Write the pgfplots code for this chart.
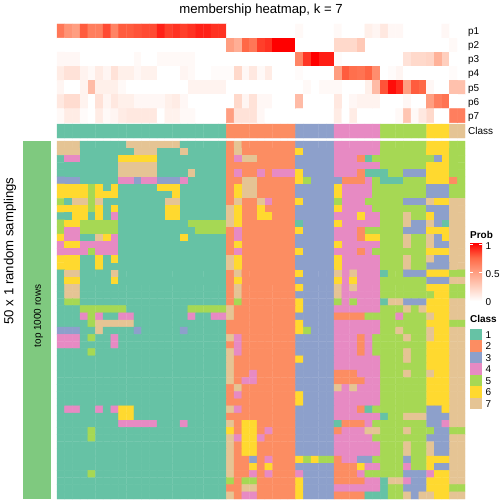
\documentclass[border=0pt]{standalone}
\usepackage{fontspec}
\setmainfont{Liberation Sans}
\usepackage{pgfplots}
\pgfplotsset{compat=1.18}
\definecolor{c1}{RGB}{102,194,165}
\definecolor{c2}{RGB}{252,141,98}
\definecolor{c3}{RGB}{141,160,203}
\definecolor{c4}{RGB}{231,138,195}
\definecolor{c5}{RGB}{166,216,84}
\definecolor{c6}{RGB}{255,217,47}
\definecolor{c7}{RGB}{229,196,148}
\definecolor{slicegreen}{RGB}{127,201,127}
\definecolor{pq1}{RGB}{255,207,190}
\definecolor{pq2}{RGB}{255,158,129}
\definecolor{pq3}{RGB}{255,104,70}
\pgfdeclareverticalshading{probbar}{100bp}{color(0bp)=(white); color(25bp)=(white); color(37.5bp)=(pq1); color(50bp)=(pq2); color(62.5bp)=(pq3); color(75bp)=(red); color(100bp)=(red)}
\pgfplotsset{
  canvas/.style={at={(0,0)}, anchor=south west, scale only axis, width=504bp, height=504bp,
    xmin=0, xmax=504, ymin=0, ymax=504, y dir=reverse, hide axis, clip=false},
  colormap={classmap}{rgb255=(255,255,255) rgb255=(102,194,165) rgb255=(252,141,98) rgb255=(141,160,203) rgb255=(231,138,195) rgb255=(166,216,84) rgb255=(255,217,47) rgb255=(229,196,148)},
  colormap={probmap}{rgb255=(255,255,255) rgb255=(255,207,190) rgb255=(255,158,129) rgb255=(255,104,70) rgb255=(255,0,0)},
}
\begin{document}
\begin{tikzpicture}
\begin{axis}[canvas, colormap name=classmap, colormap access=direct]
% main heatmap: 50 rows x 53 columns of class labels
\addplot[matrix plot, mesh/cols=53, point meta=explicit] table[row sep=\\,
  x expr={57+7.698*(mod(\coordindex,53)+0.5)}, y expr={141+7.16*(floor((\coordindex+0.5)/53)+0.5)}, meta=c] {
c\\
7\\7\\7\\1\\1\\1\\1\\1\\1\\7\\7\\7\\7\\7\\7\\7\\1\\1\\1\\1\\1\\1\\2\\7\\2\\2\\2\\2\\2\\2\\2\\3\\3\\3\\3\\3\\4\\4\\4\\4\\4\\4\\5\\5\\5\\5\\5\\5\\6\\6\\6\\5\\5\\
7\\7\\7\\1\\1\\1\\1\\1\\1\\1\\7\\7\\7\\1\\1\\1\\7\\1\\1\\1\\1\\1\\2\\7\\2\\2\\2\\2\\2\\2\\2\\6\\3\\3\\3\\3\\4\\4\\4\\4\\4\\4\\5\\5\\5\\5\\5\\5\\6\\6\\6\\5\\5\\
1\\4\\4\\1\\1\\1\\1\\1\\6\\6\\6\\6\\6\\1\\1\\1\\1\\1\\1\\1\\1\\1\\2\\4\\7\\7\\2\\2\\2\\2\\2\\3\\3\\3\\3\\3\\4\\4\\4\\2\\1\\5\\5\\5\\5\\5\\5\\5\\5\\3\\6\\5\\5\\
1\\1\\1\\1\\1\\1\\1\\1\\7\\7\\7\\7\\7\\1\\1\\1\\1\\1\\1\\1\\1\\1\\2\\2\\2\\2\\2\\2\\2\\2\\2\\3\\3\\3\\3\\3\\4\\4\\4\\4\\4\\4\\5\\5\\5\\5\\5\\5\\6\\6\\6\\5\\5\\
1\\1\\1\\1\\1\\1\\1\\1\\7\\7\\7\\7\\7\\1\\1\\1\\1\\7\\1\\1\\1\\1\\2\\4\\2\\2\\4\\2\\4\\4\\4\\6\\3\\3\\3\\3\\4\\4\\4\\2\\1\\1\\1\\5\\5\\3\\3\\3\\6\\6\\6\\5\\5\\
3\\3\\3\\1\\1\\1\\1\\1\\4\\4\\3\\4\\4\\3\\3\\3\\4\\1\\1\\1\\1\\1\\2\\2\\7\\7\\2\\2\\2\\2\\2\\6\\5\\3\\3\\3\\3\\2\\2\\2\\4\\5\\1\\1\\1\\5\\5\\5\\6\\6\\6\\2\\5\\
6\\6\\6\\6\\5\\6\\1\\6\\1\\1\\1\\1\\1\\6\\6\\6\\1\\1\\1\\1\\1\\1\\2\\6\\7\\7\\2\\2\\2\\2\\2\\3\\3\\3\\3\\3\\6\\4\\4\\4\\4\\5\\5\\5\\5\\5\\5\\5\\3\\3\\3\\5\\5\\
6\\6\\6\\6\\5\\6\\6\\6\\1\\1\\1\\1\\1\\1\\1\\6\\1\\1\\1\\1\\1\\1\\2\\6\\7\\7\\2\\2\\2\\2\\2\\3\\3\\3\\3\\3\\6\\4\\4\\4\\4\\5\\5\\5\\5\\5\\5\\5\\3\\3\\3\\5\\5\\
5\\1\\7\\7\\5\\7\\1\\1\\1\\1\\1\\1\\1\\1\\7\\7\\1\\1\\1\\1\\1\\1\\2\\7\\2\\2\\7\\4\\2\\2\\2\\6\\3\\3\\3\\3\\5\\4\\4\\4\\5\\5\\5\\5\\5\\3\\3\\3\\7\\6\\6\\7\\7\\
6\\6\\6\\6\\5\\6\\1\\6\\1\\1\\1\\1\\1\\1\\6\\6\\1\\1\\1\\1\\1\\1\\7\\6\\2\\2\\6\\2\\2\\2\\2\\3\\3\\3\\3\\3\\6\\4\\4\\4\\4\\5\\5\\5\\5\\5\\5\\5\\3\\3\\3\\7\\7\\
1\\1\\6\\6\\1\\6\\1\\4\\1\\1\\1\\1\\1\\1\\6\\6\\1\\1\\1\\1\\1\\1\\7\\6\\2\\2\\6\\6\\2\\2\\2\\3\\3\\3\\3\\3\\4\\4\\4\\6\\4\\4\\5\\5\\5\\7\\5\\5\\6\\3\\3\\7\\7\\
5\\6\\6\\5\\5\\5\\5\\5\\1\\1\\1\\1\\1\\1\\1\\1\\1\\5\\5\\5\\5\\5\\7\\6\\2\\2\\2\\2\\2\\2\\2\\1\\3\\3\\3\\3\\6\\4\\4\\4\\4\\4\\5\\5\\5\\7\\3\\3\\7\\3\\1\\7\\7\\
5\\4\\4\\5\\5\\5\\5\\5\\1\\1\\1\\1\\1\\1\\1\\1\\1\\1\\5\\5\\5\\5\\2\\4\\2\\2\\2\\2\\2\\2\\2\\6\\3\\3\\3\\3\\4\\4\\4\\2\\5\\5\\5\\5\\5\\3\\3\\3\\6\\6\\6\\7\\7\\
6\\4\\4\\1\\1\\7\\6\\4\\1\\1\\1\\1\\1\\1\\1\\1\\6\\1\\1\\1\\1\\1\\2\\4\\2\\2\\2\\2\\2\\2\\2\\3\\3\\3\\3\\3\\4\\4\\4\\2\\6\\6\\5\\5\\5\\7\\5\\5\\7\\3\\6\\7\\7\\
4\\6\\6\\4\\4\\4\\4\\4\\1\\1\\1\\1\\1\\1\\1\\1\\1\\1\\1\\1\\1\\1\\2\\6\\2\\2\\2\\2\\2\\2\\2\\3\\3\\3\\3\\3\\6\\4\\4\\4\\4\\4\\5\\5\\5\\7\\5\\5\\7\\3\\3\\7\\7\\
4\\4\\4\\4\\5\\4\\4\\4\\1\\1\\1\\1\\1\\1\\1\\1\\1\\1\\1\\1\\1\\1\\2\\4\\2\\2\\2\\2\\2\\2\\2\\6\\3\\3\\3\\3\\4\\4\\4\\2\\4\\5\\5\\5\\5\\5\\5\\5\\6\\6\\6\\7\\7\\
6\\6\\6\\1\\1\\6\\1\\6\\1\\1\\1\\1\\1\\1\\1\\1\\1\\1\\1\\1\\1\\1\\7\\6\\2\\2\\2\\2\\2\\2\\2\\3\\3\\3\\3\\3\\6\\4\\4\\4\\4\\4\\5\\5\\5\\7\\5\\5\\7\\3\\3\\7\\7\\
6\\6\\6\\1\\1\\6\\1\\1\\1\\1\\1\\1\\1\\1\\1\\1\\1\\1\\1\\1\\1\\1\\7\\6\\2\\2\\2\\2\\2\\2\\2\\3\\3\\3\\3\\3\\6\\4\\4\\4\\4\\4\\5\\5\\5\\7\\5\\5\\3\\3\\3\\7\\7\\
1\\7\\7\\1\\1\\1\\1\\7\\1\\1\\1\\1\\1\\1\\1\\1\\1\\1\\1\\1\\1\\1\\2\\7\\2\\2\\2\\2\\2\\2\\2\\6\\3\\3\\3\\3\\7\\4\\7\\4\\4\\4\\1\\5\\5\\3\\3\\3\\6\\6\\6\\5\\5\\
1\\6\\6\\1\\1\\1\\1\\6\\1\\1\\1\\1\\1\\1\\1\\1\\1\\1\\1\\1\\1\\1\\2\\6\\2\\2\\2\\2\\2\\2\\2\\3\\3\\3\\3\\3\\6\\4\\6\\4\\4\\4\\5\\5\\5\\5\\5\\5\\3\\3\\3\\7\\7\\
1\\7\\7\\1\\1\\1\\1\\1\\1\\1\\1\\1\\1\\1\\1\\1\\1\\1\\1\\1\\1\\1\\2\\7\\2\\2\\2\\2\\2\\2\\2\\6\\3\\3\\3\\3\\7\\4\\7\\4\\4\\4\\5\\5\\5\\5\\5\\5\\6\\6\\6\\5\\5\\
1\\7\\7\\1\\1\\1\\1\\1\\1\\1\\1\\1\\1\\1\\1\\1\\1\\1\\1\\1\\1\\1\\2\\7\\2\\2\\2\\2\\2\\2\\2\\3\\3\\3\\3\\3\\7\\4\\4\\4\\4\\4\\5\\5\\5\\5\\5\\5\\5\\6\\6\\5\\5\\
1\\5\\5\\1\\1\\1\\1\\1\\1\\1\\1\\1\\1\\1\\1\\1\\1\\1\\1\\1\\1\\1\\2\\5\\2\\2\\2\\2\\2\\2\\2\\6\\3\\3\\3\\3\\5\\4\\5\\4\\4\\4\\1\\7\\7\\3\\3\\3\\6\\6\\6\\7\\7\\
1\\1\\1\\5\\5\\5\\5\\5\\5\\1\\1\\1\\1\\1\\1\\1\\1\\5\\5\\5\\5\\5\\7\\2\\2\\2\\2\\2\\2\\2\\2\\6\\3\\3\\3\\3\\4\\4\\4\\4\\4\\4\\5\\5\\5\\7\\5\\7\\6\\6\\6\\7\\7\\
1\\1\\1\\4\\5\\4\\1\\1\\4\\4\\1\\1\\1\\1\\1\\1\\1\\4\\1\\1\\4\\4\\7\\2\\2\\2\\2\\2\\2\\2\\2\\3\\3\\3\\3\\3\\2\\2\\2\\2\\5\\5\\5\\5\\4\\5\\5\\5\\7\\6\\6\\7\\7\\
1\\1\\1\\1\\5\\7\\7\\7\\7\\7\\1\\1\\1\\1\\1\\1\\1\\1\\1\\1\\1\\1\\2\\2\\2\\2\\2\\2\\2\\2\\2\\6\\3\\3\\3\\3\\4\\4\\4\\4\\4\\4\\5\\5\\5\\5\\5\\5\\6\\6\\6\\5\\5\\
3\\3\\3\\1\\1\\7\\1\\1\\1\\1\\3\\1\\1\\1\\1\\1\\3\\1\\1\\1\\1\\1\\2\\2\\2\\2\\2\\2\\2\\2\\2\\6\\5\\3\\3\\3\\4\\4\\4\\4\\4\\4\\5\\5\\7\\5\\5\\5\\7\\6\\6\\7\\7\\
4\\4\\4\\1\\5\\1\\1\\4\\1\\1\\1\\1\\1\\1\\1\\1\\1\\1\\1\\1\\1\\1\\7\\4\\2\\2\\2\\2\\2\\2\\2\\3\\3\\3\\3\\3\\4\\4\\4\\2\\4\\5\\5\\5\\5\\7\\5\\5\\7\\6\\6\\7\\7\\
4\\4\\4\\1\\1\\1\\1\\4\\1\\1\\1\\1\\1\\1\\1\\1\\1\\1\\1\\1\\1\\1\\2\\4\\2\\2\\2\\2\\2\\2\\2\\3\\3\\3\\3\\3\\4\\4\\4\\2\\4\\5\\5\\5\\5\\5\\5\\5\\6\\6\\6\\7\\7\\
1\\1\\1\\1\\5\\1\\1\\1\\1\\1\\1\\1\\1\\1\\1\\1\\1\\1\\1\\1\\1\\1\\7\\4\\2\\2\\2\\2\\2\\2\\2\\3\\3\\3\\3\\3\\4\\4\\4\\2\\4\\5\\5\\5\\5\\7\\5\\5\\6\\6\\6\\7\\7\\
1\\1\\1\\1\\1\\1\\1\\1\\1\\1\\1\\1\\1\\1\\1\\1\\1\\1\\1\\1\\1\\1\\7\\2\\2\\2\\2\\2\\2\\2\\2\\6\\3\\3\\3\\3\\4\\4\\4\\4\\4\\4\\5\\5\\5\\7\\5\\5\\6\\6\\6\\7\\7\\
1\\1\\1\\1\\1\\1\\1\\1\\1\\1\\1\\1\\1\\1\\1\\1\\1\\1\\1\\1\\1\\1\\7\\2\\2\\2\\2\\2\\2\\2\\2\\3\\3\\3\\3\\3\\4\\4\\4\\4\\4\\4\\5\\5\\5\\5\\5\\5\\6\\6\\6\\7\\7\\
1\\1\\1\\1\\1\\1\\1\\1\\1\\1\\1\\1\\1\\1\\1\\1\\1\\1\\1\\1\\1\\1\\7\\2\\2\\4\\2\\2\\2\\2\\2\\3\\3\\3\\3\\3\\2\\2\\2\\4\\4\\4\\5\\5\\5\\7\\5\\5\\7\\6\\6\\7\\7\\
1\\1\\1\\1\\1\\1\\1\\1\\1\\1\\1\\1\\1\\1\\1\\1\\1\\1\\1\\1\\1\\1\\7\\2\\4\\4\\2\\2\\2\\2\\2\\3\\3\\3\\3\\3\\2\\2\\2\\2\\4\\4\\5\\5\\5\\5\\5\\5\\6\\6\\6\\7\\7\\
1\\1\\1\\1\\1\\1\\1\\1\\1\\1\\1\\1\\1\\1\\1\\1\\1\\1\\1\\1\\1\\1\\2\\7\\2\\2\\2\\2\\2\\2\\2\\3\\3\\3\\3\\3\\7\\4\\7\\4\\4\\4\\5\\5\\5\\5\\5\\5\\6\\6\\6\\7\\7\\
1\\1\\1\\1\\1\\1\\1\\1\\1\\1\\1\\1\\1\\1\\1\\1\\1\\1\\1\\1\\1\\1\\2\\4\\2\\2\\2\\2\\2\\2\\2\\6\\3\\3\\3\\3\\4\\4\\4\\4\\4\\4\\5\\5\\5\\5\\5\\5\\6\\6\\6\\7\\7\\
1\\1\\1\\1\\1\\1\\1\\1\\1\\1\\1\\1\\1\\1\\1\\1\\1\\1\\1\\1\\1\\1\\2\\2\\2\\2\\2\\2\\2\\2\\2\\6\\3\\3\\3\\3\\4\\4\\4\\4\\4\\4\\5\\5\\5\\5\\5\\5\\6\\6\\6\\7\\7\\
1\\4\\4\\1\\1\\4\\1\\4\\6\\6\\1\\1\\1\\1\\1\\1\\1\\1\\1\\1\\1\\1\\7\\4\\2\\2\\2\\2\\2\\2\\2\\3\\3\\3\\3\\3\\4\\4\\4\\2\\1\\5\\5\\5\\5\\5\\5\\5\\3\\3\\6\\7\\7\\
1\\1\\1\\1\\1\\1\\1\\1\\6\\6\\1\\1\\1\\1\\1\\1\\1\\1\\1\\1\\1\\1\\2\\2\\2\\2\\2\\2\\2\\2\\2\\3\\3\\3\\3\\3\\4\\4\\4\\4\\4\\4\\1\\5\\5\\7\\7\\7\\3\\3\\3\\7\\7\\
1\\1\\1\\1\\1\\1\\1\\1\\4\\4\\4\\4\\4\\1\\1\\1\\4\\1\\1\\1\\1\\1\\7\\2\\6\\6\\2\\2\\2\\2\\2\\3\\3\\3\\3\\3\\1\\2\\2\\2\\4\\5\\5\\5\\5\\5\\5\\5\\3\\3\\4\\7\\7\\
1\\1\\1\\1\\5\\1\\1\\1\\1\\1\\1\\1\\1\\1\\1\\1\\1\\1\\1\\1\\1\\1\\6\\2\\6\\6\\2\\4\\2\\2\\2\\3\\3\\3\\3\\3\\2\\4\\4\\4\\7\\7\\5\\5\\5\\7\\5\\5\\5\\3\\3\\5\\5\\
1\\1\\1\\1\\5\\1\\1\\1\\1\\1\\1\\1\\1\\1\\1\\1\\1\\1\\1\\1\\1\\1\\7\\4\\6\\6\\4\\2\\2\\2\\2\\3\\3\\3\\3\\3\\4\\4\\4\\4\\4\\5\\5\\5\\5\\5\\5\\5\\3\\3\\3\\7\\7\\
1\\1\\1\\1\\1\\1\\1\\1\\1\\1\\1\\1\\1\\1\\1\\1\\1\\1\\1\\1\\1\\1\\7\\2\\6\\6\\2\\2\\2\\2\\2\\3\\3\\3\\3\\3\\4\\4\\4\\4\\4\\4\\5\\5\\5\\7\\5\\5\\7\\3\\3\\7\\7\\
1\\1\\1\\1\\1\\1\\1\\1\\1\\1\\1\\1\\1\\1\\1\\1\\1\\1\\1\\1\\1\\1\\7\\2\\6\\6\\2\\2\\2\\2\\2\\3\\3\\3\\3\\3\\4\\4\\4\\4\\4\\4\\5\\5\\5\\7\\5\\5\\7\\3\\3\\7\\7\\
1\\1\\1\\1\\1\\1\\1\\1\\1\\1\\1\\1\\1\\1\\1\\1\\1\\1\\1\\1\\1\\1\\7\\2\\2\\3\\2\\4\\2\\2\\2\\6\\5\\6\\5\\5\\2\\4\\4\\3\\3\\5\\5\\5\\5\\3\\5\\5\\6\\6\\6\\7\\7\\
1\\1\\1\\1\\1\\1\\1\\1\\1\\1\\1\\1\\1\\1\\1\\1\\1\\1\\1\\1\\1\\1\\7\\2\\2\\6\\2\\6\\2\\2\\2\\3\\3\\3\\3\\3\\2\\2\\2\\6\\4\\4\\5\\5\\5\\4\\5\\5\\6\\3\\3\\7\\7\\
1\\1\\1\\1\\5\\1\\1\\1\\1\\1\\1\\1\\1\\1\\1\\1\\1\\1\\1\\1\\1\\1\\7\\2\\2\\4\\2\\4\\2\\2\\2\\4\\3\\3\\3\\3\\2\\2\\2\\4\\5\\5\\5\\5\\5\\3\\3\\3\\4\\6\\6\\7\\7\\
1\\1\\1\\1\\1\\1\\1\\1\\1\\1\\1\\1\\1\\1\\1\\1\\1\\1\\1\\1\\1\\1\\5\\2\\5\\5\\2\\2\\2\\2\\2\\6\\3\\3\\3\\3\\2\\2\\2\\2\\4\\4\\1\\7\\7\\4\\3\\3\\6\\6\\6\\7\\7\\
1\\1\\1\\1\\1\\1\\1\\1\\1\\1\\1\\1\\1\\1\\1\\1\\1\\1\\1\\1\\1\\1\\2\\2\\7\\7\\2\\2\\2\\2\\2\\6\\3\\3\\3\\3\\4\\4\\4\\4\\4\\4\\1\\5\\5\\3\\3\\3\\6\\6\\6\\5\\5\\
1\\1\\1\\1\\1\\1\\1\\1\\1\\1\\1\\1\\1\\1\\1\\1\\1\\1\\1\\1\\1\\1\\7\\2\\4\\4\\2\\2\\2\\2\\2\\6\\3\\3\\3\\3\\2\\2\\2\\2\\1\\1\\1\\5\\5\\7\\3\\7\\7\\6\\6\\7\\7\\
};
% class annotation bar (two half-height rows with the same classes)
\addplot[matrix plot, mesh/cols=53, point meta=explicit] table[row sep=\\,
  x expr={57+7.698*(mod(\coordindex,53)+0.5)}, y expr={124+7*(floor((\coordindex+0.5)/53)+0.5)}, meta=c] {
c\\
1\\1\\1\\1\\1\\1\\1\\1\\1\\1\\1\\1\\1\\1\\1\\1\\1\\1\\1\\1\\1\\1\\2\\2\\2\\2\\2\\2\\2\\2\\2\\3\\3\\3\\3\\3\\4\\4\\4\\4\\4\\4\\5\\5\\5\\5\\5\\5\\6\\6\\6\\7\\7\\
1\\1\\1\\1\\1\\1\\1\\1\\1\\1\\1\\1\\1\\1\\1\\1\\1\\1\\1\\1\\1\\1\\2\\2\\2\\2\\2\\2\\2\\2\\2\\3\\3\\3\\3\\3\\4\\4\\4\\4\\4\\4\\5\\5\\5\\5\\5\\5\\6\\6\\6\\7\\7\\
};
% left slice bar and legend keys
\fill[slicegreen] (axis cs:23,141) rectangle (axis cs:51,499);
\fill[c1] (axis cs:470,329.00) rectangle (axis cs:482,340.47);
\fill[c2] (axis cs:470,340.47) rectangle (axis cs:482,351.94);
\fill[c3] (axis cs:470,351.94) rectangle (axis cs:482,363.41);
\fill[c4] (axis cs:470,363.41) rectangle (axis cs:482,374.88);
\fill[c5] (axis cs:470,374.88) rectangle (axis cs:482,386.35);
\fill[c6] (axis cs:470,386.35) rectangle (axis cs:482,397.82);
\fill[c7] (axis cs:470,397.82) rectangle (axis cs:482,409.29);
\end{axis}
\begin{axis}[canvas, colormap name=probmap, point meta min=0, point meta max=1]
% membership probabilities p1..p7
\addplot[matrix plot, mesh/cols=53, point meta=explicit] table[row sep=\\,
  x expr={57+7.698*(mod(\coordindex,53)+0.5)}, y expr={24+14.1*(floor((\coordindex+0.5)/53)+0.5)}, meta=v] {
v\\
0.68\\0.55\\0.5\\0.78\\0.65\\0.65\\0.82\\0.62\\0.78\\0.78\\0.8\\0.82\\0.82\\0.92\\0.85\\0.88\\0.85\\0.88\\0.92\\0.92\\0.88\\0.88\\0\\0\\0\\0\\0\\0\\0\\0\\0\\0.03\\0\\0\\0\\0\\0.03\\0\\0\\0\\0.08\\0.05\\0.12\\0.04\\0.04\\0\\0\\0\\0\\0\\0.04\\0\\0\\
0\\0\\0\\0\\0\\0\\0\\0\\0\\0\\0\\0\\0\\0\\0\\0\\0\\0\\0\\0\\0\\0\\0.5\\0.42\\0.75\\0.68\\0.85\\0.88\\1\\1\\1\\0\\0\\0\\0\\0\\0.2\\0.2\\0.2\\0.28\\0\\0\\0\\0\\0\\0\\0\\0\\0\\0\\0\\0.03\\0\\
0.04\\0.04\\0.04\\0\\0\\0\\0\\0\\0\\0\\0.03\\0\\0\\0.03\\0.03\\0.03\\0.03\\0.03\\0\\0\\0\\0\\0\\0\\0\\0\\0\\0\\0\\0\\0\\0.62\\0.87\\1\\0.93\\0.93\\0.02\\0\\0\\0\\0\\0\\0\\0\\0\\0.15\\0.2\\0.2\\0.22\\0.4\\0.25\\0\\0\\
0.1\\0.15\\0.15\\0.06\\0.03\\0.1\\0.05\\0.15\\0.08\\0.08\\0.04\\0.07\\0.07\\0\\0\\0\\0.05\\0.03\\0\\0\\0.02\\0.02\\0.02\\0.2\\0.04\\0.12\\0.03\\0.1\\0\\0\\0\\0.02\\0\\0\\0\\0\\0.5\\0.78\\0.72\\0.7\\0.76\\0.58\\0\\0.02\\0.05\\0\\0\\0\\0\\0\\0\\0.02\\0\\
0.05\\0\\0\\0.06\\0.35\\0.08\\0.08\\0.08\\0.03\\0\\0\\0\\0\\0\\0\\0\\0\\0.06\\0.06\\0.06\\0.06\\0.06\\0\\0\\0\\0\\0\\0\\0\\0\\0\\0\\0.03\\0\\0.03\\0.03\\0.03\\0\\0\\0\\0.08\\0.35\\0.8\\0.97\\0.9\\0.5\\0.78\\0.75\\0.04\\0\\0\\0.32\\0.32\\
0.12\\0.18\\0.18\\0.06\\0\\0.15\\0.05\\0.12\\0.08\\0.08\\0.04\\0.04\\0.04\\0.04\\0.08\\0.1\\0.04\\0\\0\\0\\0\\0\\0\\0.2\\0.05\\0.15\\0.04\\0.04\\0\\0\\0\\0.35\\0\\0\\0\\0\\0.12\\0\\0.04\\0.06\\0.06\\0.06\\0\\0\\0\\0.04\\0\\0\\0.5\\0.65\\0.7\\0\\0\\
0.03\\0.1\\0.1\\0.02\\0\\0.1\\0.03\\0.05\\0.1\\0.12\\0.12\\0.12\\0.12\\0\\0.07\\0.07\\0.03\\0.03\\0\\0\\0\\0\\0.5\\0.15\\0.15\\0.15\\0.04\\0\\0\\0\\0\\0\\0\\0\\0\\0\\0.1\\0\\0.1\\0\\0\\0\\0\\0\\0.03\\0.3\\0.03\\0.12\\0.2\\0\\0\\0.65\\0.65\\
};
% Prob colour bar
\shade[shading=probbar] (axis cs:470,243) rectangle (axis cs:482,301);
\draw[white, line width=0.6pt] (axis cs:470,272) -- (axis cs:473,272) (axis cs:479,272) -- (axis cs:482,272);
\draw[white, line width=0.6pt] (axis cs:470,244) -- (axis cs:473,244) (axis cs:479,244) -- (axis cs:482,244);
% texts
\node[font=\fontsize{13.2}{16}\selectfont, anchor=base] at (axis cs:261,14) {membership heatmap, k = 7};
\begin{scope}[every node/.style={font=\fontsize{10}{12}\selectfont, anchor=base west, inner sep=0pt}]
\node at (axis cs:468,34.6) {p1};
\node at (axis cs:468,48.6) {p2};
\node at (axis cs:468,62.6) {p3};
\node at (axis cs:468,77.0) {p4};
\node at (axis cs:468,91.1) {p5};
\node at (axis cs:468,105.2) {p6};
\node at (axis cs:468,119.3) {p7};
\node at (axis cs:468,134.6) {Class};
\node[font=\fontsize{10}{12}\selectfont\bfseries] at (axis cs:470,238.6) {Prob};
\node at (axis cs:485.5,249.6) {1};
\node at (axis cs:485.5,277.3) {0.5};
\node at (axis cs:485.5,305.3) {0};
\node[font=\fontsize{10}{12}\selectfont\bfseries] at (axis cs:470,322.9) {Class};
\node at (axis cs:485.5,338.3) {1};
\node at (axis cs:485.5,349.8) {2};
\node at (axis cs:485.5,361.3) {3};
\node at (axis cs:485.5,372.7) {4};
\node at (axis cs:485.5,384.2) {5};
\node at (axis cs:485.5,395.7) {6};
\node at (axis cs:485.5,407.2) {7};
\end{scope}
\node[font=\fontsize{13.2}{16}\selectfont, rotate=90] at (axis cs:10,251) {50 x 1 random samplings};
\node[font=\fontsize{10}{12}\selectfont, rotate=90] at (axis cs:38.5,316) {top 1000 rows};
\end{axis}
\pgfresetboundingbox
\path (0,0) rectangle (504bp,504bp);
\end{tikzpicture}
\end{document}
